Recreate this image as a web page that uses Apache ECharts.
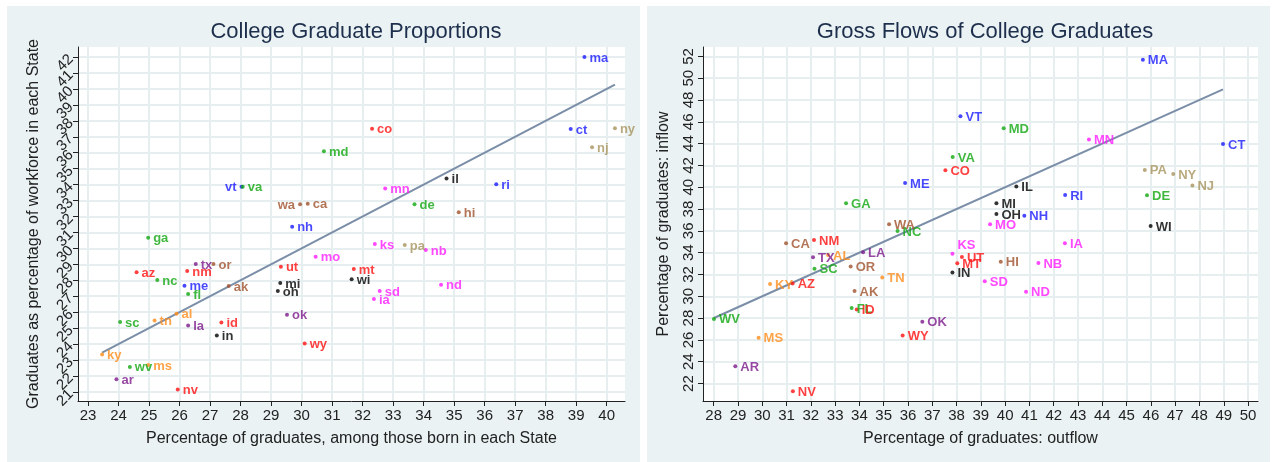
<!DOCTYPE html>
<html>
<head>
<meta charset="utf-8">
<script src="https://cdn.jsdelivr.net/npm/echarts@6/dist/echarts.min.js"></script>
<style>
  html, body { margin: 0; background: #fff; }
  #chart { width: 1276px; height: 462px; }
</style>
</head>
<body>
<div id="chart"></div>
<script>
// census divisions, one colour each
const regionStates = [
  ['MA', 'CT', 'RI', 'VT', 'NH', 'ME'],
  ['NY', 'NJ', 'PA'],
  ['IL', 'WI', 'MI', 'OH', 'IN'],
  ['MN', 'KS', 'NB', 'SD', 'IA', 'ND', 'MO'],
  ['MD', 'VA', 'GA', 'NC', 'FL', 'SC', 'WV', 'DE'],
  ['AL', 'TN', 'KY', 'MS'],
  ['TX', 'LA', 'OK', 'AR'],
  ['CO', 'AZ', 'NM', 'UT', 'MT', 'ID', 'WY', 'NV'],
  ['WA', 'CA', 'OR', 'AK', 'HI']
]
const regionColors = ['#1a1aff', '#a8935e', '#000000', '#ff1aff', '#12a812', '#ff8c1a', '#7d1a8c', '#ff1010', '#a0522d']

// left panel: share among those born in state (x), share of workforce (y)
const bornShare = [
  39.27, 38.82, 36.38, 28.03, 29.69, 26.16,
  40.27, 39.52, 33.38,
  34.75, 31.64, 29.30, 29.22, 27.22,
  32.74, 32.40, 34.07, 32.56, 32.37, 34.57, 30.46,
  30.73, 28.07, 24.97, 25.27, 26.28, 24.05, 24.37, 33.70,
  25.90, 25.18, 23.46, 24.97,
  26.53, 26.28, 29.52, 23.93,
  32.31, 24.59, 26.25, 29.32, 31.71, 27.37, 30.10, 25.94,
  29.95, 30.20, 27.11, 27.61, 35.15
]
const workShare = [
  42.00, 37.48, 34.03, 33.86, 31.36, 27.66,
  37.54, 36.35, 30.21,
  34.38, 28.06, 27.83, 27.33, 24.54,
  33.75, 30.28, 29.90, 27.33, 26.82, 27.72, 29.48,
  36.10, 33.86, 30.67, 28.02, 27.14, 25.38, 22.57, 32.77,
  25.90, 25.48, 23.35, 22.68,
  29.02, 25.17, 25.84, 21.80,
  37.50, 28.50, 28.58, 28.85, 28.71, 25.36, 24.04, 21.15,
  32.77, 32.80, 29.02, 27.64, 32.27
]

// right panel: outflow (x), inflow (y)
const outflow = [
  45.67, 48.97, 42.47, 38.16, 40.79, 35.88,
  46.92, 47.71, 45.75,
  40.46, 45.99, 39.64, 39.64, 37.83,
  43.45, 37.83, 41.37, 39.16, 42.46, 40.86, 39.38,
  39.94, 37.84, 33.45, 35.57, 33.68, 32.15, 28.01, 45.84,
  32.71, 34.94, 30.32, 29.85,
  32.09, 34.15, 36.59, 28.89,
  37.54, 31.25, 32.13, 38.22, 38.03, 33.89, 35.78, 31.26,
  35.22, 30.98, 33.64, 33.80, 39.82
]
const inflow = [
  51.69, 43.97, 39.29, 46.52, 37.39, 40.39,
  41.22, 40.15, 41.59,
  40.06, 36.44, 38.53, 37.55, 32.19,
  44.37, 33.90, 33.05, 31.39, 34.86, 30.41, 36.60,
  45.42, 42.78, 38.53, 35.98, 28.92, 32.52, 27.93, 39.26,
  33.78, 31.73, 31.12, 26.19,
  33.57, 34.03, 27.66, 23.59,
  41.56, 31.18, 35.16, 33.60, 33.02, 28.80, 26.41, 21.29,
  36.60, 34.86, 32.74, 30.48, 33.17
]

const xTicksL = [23, 24, 25, 26, 27, 28, 29, 30, 31, 32, 33, 34, 35, 36, 37, 38, 39, 40]
const yTicksL = [21, 22, 23, 24, 25, 26, 27, 28, 29, 30, 31, 32, 33, 34, 35, 36, 37, 38, 39, 40, 41, 42]
const xTicksR = [28, 29, 30, 31, 32, 33, 34, 35, 36, 37, 38, 39, 40, 41, 42, 43, 44, 45, 46, 47, 48, 49, 50]
const yTicksR = [22, 24, 26, 28, 30, 32, 34, 36, 38, 40, 42, 44, 46, 48, 50, 52]

const states = regionStates.flat()
const stateColor = {}
regionStates.forEach((list, i) => list.forEach(s => { stateColor[s] = regionColors[i] }))

const leftLabelPos = { VT: 'left', WA: 'left' }
const rightLabelPos = { KS: 'top' }

const font = "'Liberation Sans', Arial, sans-serif"

const makePoints = (xs, ys, lower, posMap) => states.map((s, i) => {
  const pos = posMap[s] || 'right'
  return {
    value: [xs[i], ys[i]],
    name: lower ? s.toLowerCase() : s,
    itemStyle: { color: stateColor[s] },
    label: {
      color: stateColor[s],
      position: pos,
      offset: pos === 'top' ? [14, 3] : [0, 1]
    }
  }
})

// 45 degree line (y = x) across the range of the data
const diagonal = (xs) => {
  const lo = Math.min(...xs)
  const hi = Math.max(...xs)
  return [[lo, lo], [hi, hi]]
}

const tickLabel = { fontFamily: font, fontSize: 15, color: '#222', margin: 7,
  showMinLabel: true, showMaxLabel: true, hideOverlap: false }

const axisCommon = {
  axisLine: { show: true, onZero: false, lineStyle: { color: '#222', width: 1 } },
  axisTick: { show: true, length: 5, lineStyle: { color: '#222' } },
  splitLine: { show: true, lineStyle: { color: '#e6eef0', width: 2 } },
  nameTextStyle: { fontFamily: font, fontSize: 16, color: '#222' }
}

const xAxisOf = (gridIndex, min, max, ticks, name) => ({
  ...axisCommon,
  type: 'value', gridIndex, min, max, name,
  nameLocation: 'middle', nameGap: 30,
  axisTick: { ...axisCommon.axisTick, customValues: ticks },
  axisLabel: { ...tickLabel, customValues: ticks }
})

const yAxisOf = (gridIndex, min, max, ticks, labels, name, rotate, nameGap) => ({
  ...axisCommon,
  type: 'value', gridIndex, min, max, name,
  nameLocation: 'middle', nameGap,
  axisTick: { ...axisCommon.axisTick, customValues: ticks },
  axisLabel: { ...tickLabel, customValues: labels, rotate }
})

// labels only, laid on top of the left y axis so crowded labels all stay visible
const yLabelsOnly = (gridIndex, min, max, labels, rotate) => ({
  type: 'value', gridIndex, min, max, position: 'left',
  axisLine: { show: false }, axisTick: { show: false }, splitLine: { show: false },
  axisLabel: { ...tickLabel, customValues: labels, rotate }
})

const scatterOf = (idx, data) => ({
  type: 'scatter', xAxisIndex: idx, yAxisIndex: idx,
  symbolSize: 4, data, z: 3,
  label: {
    show: true, formatter: '{b}', distance: 3,
    fontFamily: font, fontSize: 13, fontWeight: 'bold'
  }
})

const lineOf = (idx, xs) => ({
  type: 'line', xAxisIndex: idx, yAxisIndex: idx,
  data: diagonal(xs), symbol: 'none', silent: true, z: 2,
  lineStyle: { color: '#7b8ea8', width: 2 }
})

const evenL = yTicksL.filter(v => v % 2 === 0)
const oddL = yTicksL.filter(v => v % 2 === 1)

const chart = echarts.init(document.getElementById('chart'), null, { renderer: 'canvas' })

chart.setOption({
  animation: false,
  graphic: [
    { type: 'rect', shape: { x: 7, y: 6, width: 633, height: 460 }, style: { fill: '#eaf2f3' }, z: -10, silent: true },
    { type: 'rect', shape: { x: 647, y: 6, width: 623, height: 460 }, style: { fill: '#eaf2f3' }, z: -10, silent: true }
  ],
  title: [
    { text: 'College Graduate Proportions', left: 351, top: 16, textAlign: 'center',
      textStyle: { fontFamily: font, fontSize: 22, fontWeight: 'normal', color: '#1e2f4d' } },
    { text: 'Gross Flows of College Graduates', left: 980, top: 16, textAlign: 'center',
      textStyle: { fontFamily: font, fontSize: 22, fontWeight: 'normal', color: '#1e2f4d' } }
  ],
  grid: [
    { left: 78, top: 47, width: 547, height: 354, show: true, backgroundColor: '#fff', borderWidth: 0 },
    { left: 703, top: 47, width: 555, height: 354, show: true, backgroundColor: '#fff', borderWidth: 0 }
  ],
  xAxis: [
    xAxisOf(0, 22.67, 40.6, xTicksL, 'Percentage of graduates, among those born in each State'),
    xAxisOf(1, 27.56, 50.41, xTicksR, 'Percentage of graduates: outflow')
  ],
  yAxis: [
    yAxisOf(0, 20.43, 42.63, yTicksL, evenL, 'Graduates as percentage of workforce in each State', 45, 36),
    yAxisOf(1, 20.4, 52.86, yTicksR, yTicksR, 'Percentage of graduates: inflow', 90, 31),
    yLabelsOnly(0, 20.43, 42.63, oddL, 45)
  ],
  series: [
    lineOf(0, bornShare),
    scatterOf(0, makePoints(bornShare, workShare, true, leftLabelPos)),
    lineOf(1, outflow),
    scatterOf(1, makePoints(outflow, inflow, false, rightLabelPos))
  ]
})

window.addEventListener('resize', () => chart.resize())
</script>
</body>
</html>
